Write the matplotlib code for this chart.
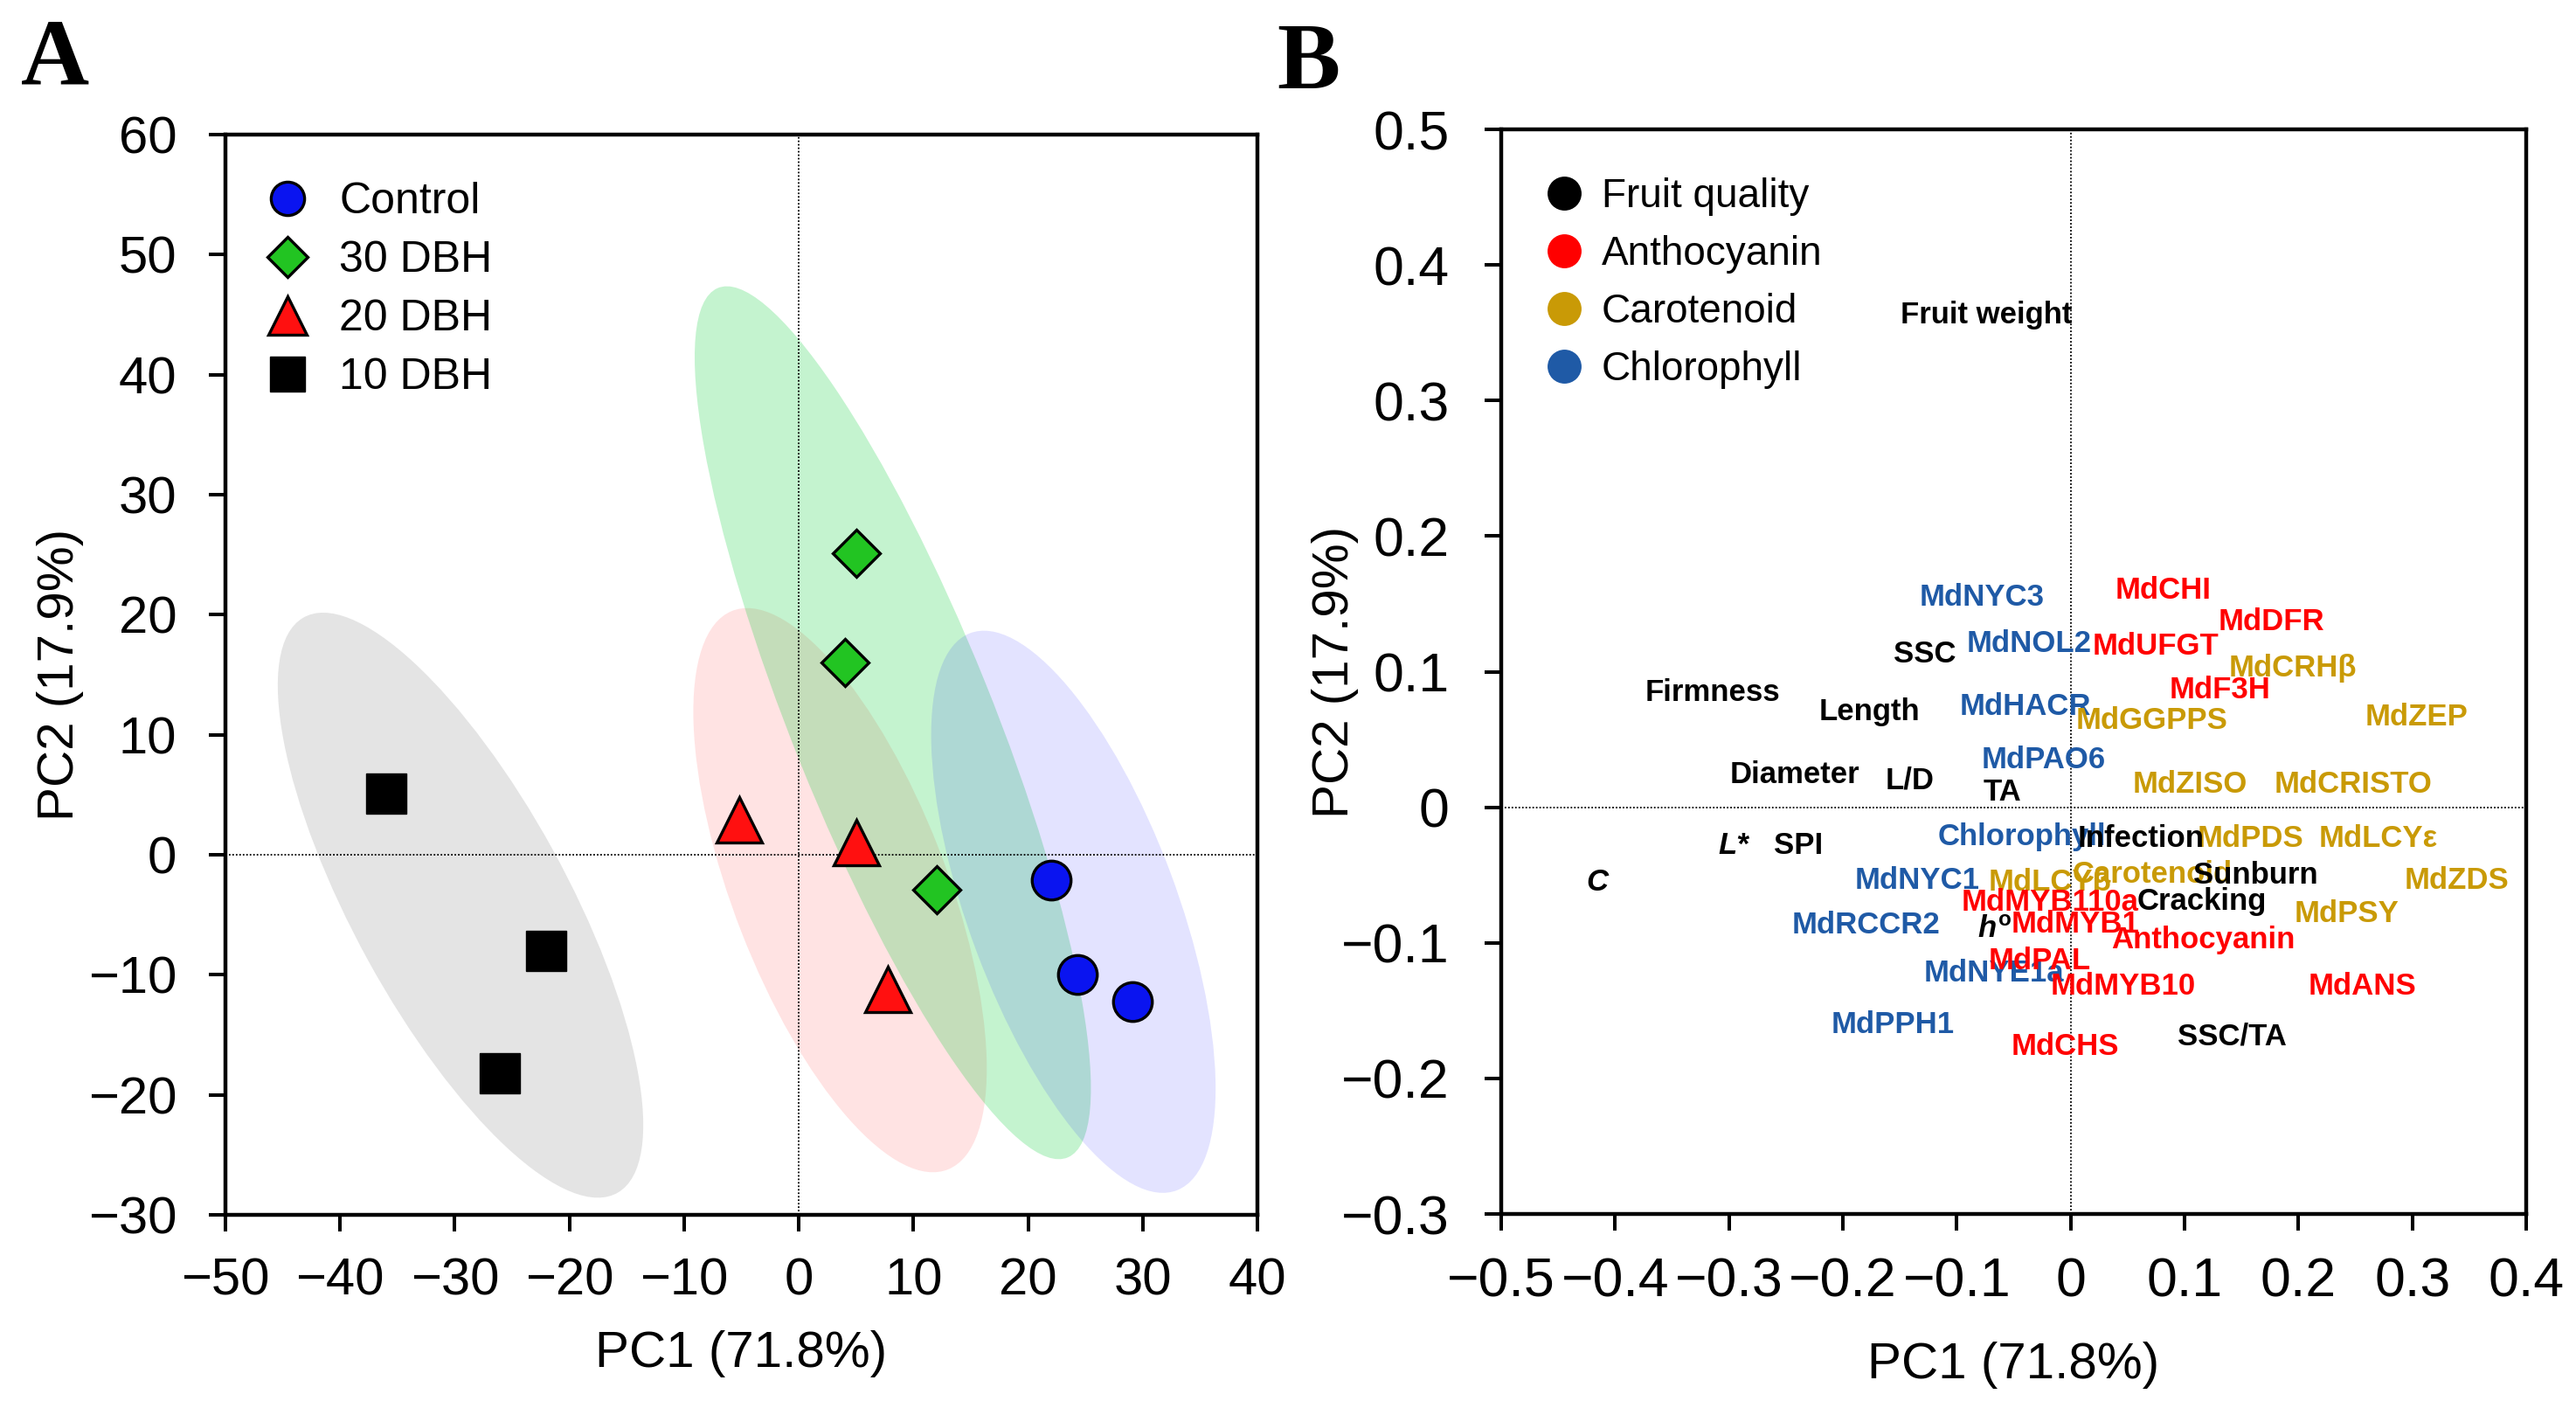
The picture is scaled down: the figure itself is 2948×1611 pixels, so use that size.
import matplotlib
matplotlib.use('Agg')
import matplotlib.pyplot as plt
from matplotlib.patches import Ellipse
from matplotlib.lines import Line2D

plt.rcParams['font.family'] = ['Liberation Sans', 'DejaVu Sans']
plt.rcParams['mathtext.fontset'] = 'custom'
plt.rcParams['mathtext.rm'] = 'Liberation Sans:bold'
plt.rcParams['mathtext.it'] = 'Liberation Sans:italic:bold'
plt.rcParams['mathtext.bf'] = 'Liberation Sans:bold'

# ---------------- panel A: PCA scores ----------------
groups = ['Control', '30 DBH', '20 DBH', '10 DBH']
control_x = [22.0, 24.3, 29.1]
control_y = [-2.1, -10.0, -12.2]
dbh30_x = [5.0, 4.0, 12.0]
dbh30_y = [25.1, 16.0, -2.9]
dbh20_x = [-5.2, 5.0, 7.8]
dbh20_y = [2.9, 1.0, -11.2]
dbh10_x = [-36.0, -22.0, -26.1]
dbh10_y = [5.1, -8.0, -18.2]

# confidence ellipses: centre, semi-axes, angle (deg)
ell_cx = [23.95, 8.2, 3.6, -29.5]
ell_cy = [-4.75, 11.0, -2.95, -4.2]
ell_a = [24.9, 39.3, 25.1, 27.6]
ell_b = [9.07, 8.73, 9.28, 9.28]
ell_ang = [111.4, 112.9, 112.2, 119.9]

a_xticks = [-50, -40, -30, -20, -10, 0, 10, 20, 30, 40]
a_yticks = [-30, -20, -10, 0, 10, 20, 30, 40, 50, 60]

# ---------------- panel B: loadings ----------------
fq_labels = ['Fruit weight', 'SSC', 'Firmness', 'Length', 'Diameter', 'L/D', 'TA',
             'L*', 'SPI', 'C', 'Infection', 'Sunburn', 'Cracking', r'$h^{\mathrm{o}}$', 'SSC/TA']
fq_x = [-0.074, -0.128, -0.314, -0.177, -0.242, -0.141, -0.060,
        -0.296, -0.239, -0.416, 0.062, 0.162, 0.115, -0.067, 0.142]
fq_y = [0.365, 0.115, 0.0865, 0.0728, 0.0265, 0.0217, 0.013,
        -0.026, -0.026, -0.053, -0.021, -0.048, -0.0675, -0.088, -0.167]
fq_italic = ['L*', 'C']

an_labels = ['MdCHI', 'MdDFR', 'MdUFGT', 'MdF3H', 'MdMYB110a', 'MdMYB1',
             'Anthocyanin', 'MdPAL', 'MdMYB10', 'MdANS', 'MdCHS']
an_x = [0.081, 0.176, 0.075, 0.131, -0.018, 0.004, 0.116, -0.027, 0.046, 0.256, -0.005]
an_y = [0.162, 0.139, 0.121, 0.089, -0.068, -0.084, -0.0956, -0.111, -0.130, -0.130, -0.174]

ca_labels = ['MdCRHβ', 'MdGGPPS', 'MdZEP', 'MdZISO', 'MdCRISTO', 'MdPDS',
             'MdLCYε', 'Carotenoid', 'MdLCYβ', 'MdZDS', 'MdPSY']
ca_x = [0.195, 0.071, 0.304, 0.105, 0.248, 0.158, 0.270, 0.0715, -0.018, 0.339, 0.242]
ca_y = [0.105, 0.066, 0.069, 0.019, 0.019, -0.021, -0.021, -0.047, -0.053, -0.052, -0.076]

ch_labels = ['MdNYC3', 'MdNOL2', 'MdHACR', 'MdPAO6', 'Chlorophyll', 'MdNYC1',
             'MdRCCR2', 'MdNYE1a', 'MdPPH1']
ch_x = [-0.078, -0.0365, -0.040, -0.024, -0.043, -0.135, -0.180, -0.067, -0.156]
ch_y = [0.157, 0.123, 0.0766, 0.037, -0.0193, -0.052, -0.085, -0.120, -0.158]

b_xticks = [-0.5, -0.4, -0.3, -0.2, -0.1, 0, 0.1, 0.2, 0.3, 0.4]
b_yticks = [-0.3, -0.2, -0.1, 0, 0.1, 0.2, 0.3, 0.4, 0.5]

c_black = 'black'
c_red = '#ff0000'
c_gold = '#c99a06'
c_blue = '#1f5aa6'


def fmt(v):
    s = f'{v:g}'
    return s.replace('-', '\u2212')


def style_axes(ax, tick_fs, xpad, ypad):
    for sp in ax.spines.values():
        sp.set_linewidth(3.2)
    ax.tick_params(axis='both', direction='out', length=14, width=2.9,
                   labelsize=tick_fs, top=False, right=False)
    ax.tick_params(axis='x', pad=xpad)
    ax.tick_params(axis='y', pad=ypad)


fig = plt.figure(figsize=(29.48, 16.11), dpi=100)

# ---------- A ----------
axA = fig.add_axes([0.08752, 0.13718, 0.40061, 0.76723])
ell_colors = [(0.0, 0.0, 1.0, 0.11), (0.0, 0.8, 0.2, 0.23),
              (1.0, 0.0, 0.0, 0.11), (0.62, 0.62, 0.62, 0.28)]
order = [3, 2, 1, 0]
for i in order:
    axA.add_patch(Ellipse((ell_cx[i], ell_cy[i]), 2 * ell_a[i], 2 * ell_b[i],
                          angle=ell_ang[i], facecolor=ell_colors[i],
                          edgecolor='none', zorder=1))

axA.axvline(0, color='black', lw=1.3, ls=(0, (1, 1.2)), zorder=2)
axA.axhline(0, color='black', lw=1.3, ls=(0, (1, 1.2)), zorder=2)

axA.plot(control_x, control_y, 'o', ls='none', ms=32, mfc='#0a14f0', mec='black',
         mew=2.4, label=groups[0], zorder=4)
axA.plot(dbh30_x, dbh30_y, 'D', ls='none', ms=27, mfc='#22c422', mec='black',
         mew=2.4, label=groups[1], zorder=4)
axA.plot(dbh20_x, dbh20_y, '^', ls='none', ms=37, mfc='#ff1010', mec='black',
         mew=2.4, label=groups[2], zorder=4)
axA.plot(dbh10_x, dbh10_y, 's', ls='none', ms=33, mfc='black', mec='black',
         mew=1.0, label=groups[3], zorder=4)

axA.set_xlim(-50, 40)
axA.set_ylim(-30, 60)
axA.set_xticks(a_xticks, [fmt(v) for v in a_xticks])
axA.set_yticks(a_yticks, [fmt(v) for v in a_yticks])
style_axes(axA, 43, 21, 26)
axA.set_xlabel('PC1 (71.8%)', fontsize=42, va='top')
axA.set_ylabel('PC2 (17.9%)', fontsize=42)
axA.xaxis.set_label_coords(0.5, -0.107)
axA.yaxis.set_label_coords(-0.137, 0.5)

axA.legend(loc='upper left', bbox_to_anchor=(0.039, 0.956), frameon=False,
           fontsize=36, markerscale=0.86, handlelength=1.0, handletextpad=0.68,
           borderpad=0, borderaxespad=0, labelspacing=0.42)

# ---------- B ----------
axB = fig.add_axes([0.58277, 0.13780, 0.39790, 0.77033])
axB.axvline(0, color='black', lw=1.3, ls=(0, (1, 1.2)), zorder=1)
axB.axhline(0, color='black', lw=1.3, ls=(0, (1, 1.2)), zorder=1)

txt_kw = dict(fontsize=25, fontweight='bold', ha='center', va='center_baseline', zorder=3)
for lab, x, y in zip(ch_labels, ch_x, ch_y):
    axB.text(x, y, lab, color=c_blue, **txt_kw)
for lab, x, y in zip(ca_labels, ca_x, ca_y):
    axB.text(x, y, lab, color=c_gold, **txt_kw)
for lab, x, y in zip(an_labels, an_x, an_y):
    axB.text(x, y, lab, color=c_red, **txt_kw)
for lab, x, y in zip(fq_labels, fq_x, fq_y):
    st = 'italic' if lab in fq_italic else 'normal'
    axB.text(x, y, lab, color=c_black, style=st, **txt_kw)

axB.set_xlim(-0.5, 0.4)
axB.set_ylim(-0.3, 0.5)
axB.set_xticks(b_xticks, [fmt(v) for v in b_xticks])
axB.set_yticks(b_yticks, [fmt(v) for v in b_yticks])
style_axes(axB, 45, 21, 29)
axB.set_xlabel('PC1 (71.8%)', fontsize=42, va='top')
axB.set_ylabel('PC2 (17.9%)', fontsize=42)
axB.xaxis.set_label_coords(0.5, -0.1176)
axB.yaxis.set_label_coords(-0.139, 0.5)

cat_names = ['Fruit quality', 'Anthocyanin', 'Carotenoid', 'Chlorophyll']
cat_colors = [c_black, c_red, c_gold, c_blue]
handles = [Line2D([], [], marker='o', ls='none', ms=28, mfc=c, mec='none')
           for c in cat_colors]
axB.legend(handles, cat_names, loc='upper left', bbox_to_anchor=(0.0418, 0.956),
           frameon=False, fontsize=33, handlelength=1.0, handletextpad=0.44,
           borderpad=0, borderaxespad=0, labelspacing=0.48)

# panel letters
fig.text(24 / 2948, 1 - 97 / 1611, 'A', fontsize=78, fontweight='bold',
         family='Liberation Serif', va='baseline', ha='left')
fig.text(1461 / 2948, 1 - 101 / 1611, 'B', fontsize=78, fontweight='bold',
         family='Liberation Serif', va='baseline', ha='left')

fig.savefig('out.png', dpi=100)
plt.close(fig)
